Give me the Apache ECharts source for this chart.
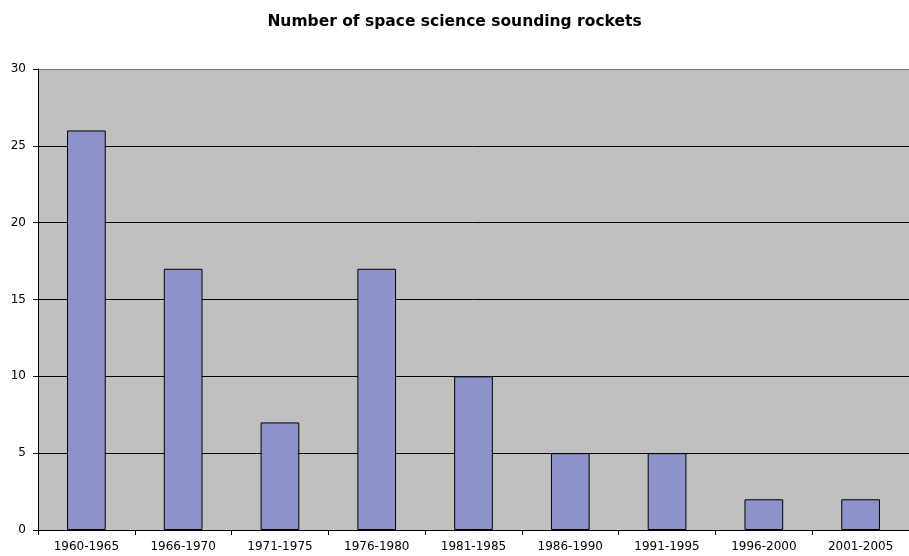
<!DOCTYPE html>
<html>
<head>
<meta charset="utf-8">
<script src="https://cdn.jsdelivr.net/npm/echarts@6/dist/echarts.min.js"></script>
<style>html,body{margin:0;padding:0;background:#fff}#chart{width:909px;height:556px}</style>
</head>
<body>
<div id="chart"></div>
<script>
const periods = ['1960-1965','1966-1970','1971-1975','1976-1980','1981-1985','1986-1990','1991-1995','1996-2000','2001-2005'];
const rocketCounts = [26, 17, 7, 17, 10, 5, 5, 2, 2];
const yTicks = [0, 5, 10, 15, 20, 25, 30];

const FONT = 'DejaVu Sans, Verdana, sans-serif';
const chart = echarts.init(document.getElementById('chart'));
chart.setOption({
  backgroundColor: '#ffffff',
  animation: false,
  title: {
    text: 'Number of space science sounding rockets',
    left: 'center',
    top: 9,
    textStyle: { fontFamily: FONT, fontSize: 15.5, fontWeight: 'bold', color: '#000' }
  },
  grid: {
    left: 38, top: 69, width: 877, height: 461,
    show: true, backgroundColor: '#c0c0c0', borderWidth: 0
  },
  xAxis: {
    type: 'category',
    data: periods,
    axisLine: { lineStyle: { color: '#000', width: 1 } },
    axisTick: { show: true, length: 5, alignWithLabel: false, lineStyle: { color: '#000' } },
    axisLabel: { color: '#000', fontSize: 12, fontFamily: FONT, margin: 11, interval: 0 }
  },
  yAxis: {
    type: 'value',
    min: yTicks[0], max: yTicks[yTicks.length - 1], interval: 5,
    axisLine: { show: true, lineStyle: { color: '#000', width: 1 } },
    axisTick: { show: true, length: 5, lineStyle: { color: '#000' } },
    axisLabel: { color: '#000', fontSize: 12, fontFamily: FONT, margin: 12 },
    splitLine: { show: true, lineStyle: { color: ['#000','#000','#000','#000','#000','#000','#777'], width: 1 } }
  },
  series: [{
    type: 'bar',
    data: rocketCounts,
    barWidth: '40%',
    itemStyle: { color: '#8b93c9', borderColor: '#000', borderWidth: 1 }
  }]
});
</script>
</body>
</html>
